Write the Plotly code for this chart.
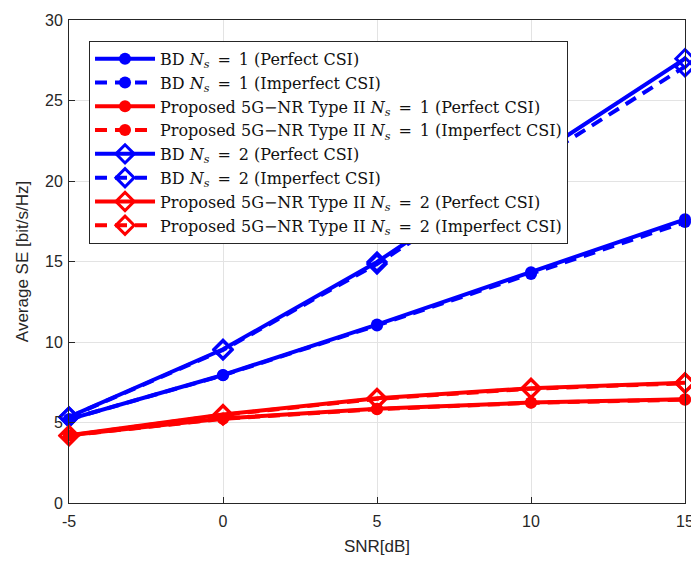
import plotly.graph_objects as go

# SNR sweep (dB)
snr_db = [-5, 0, 5, 10, 15]
snr_ticks = ["-5", "0", "5", "10", "15"]

# Average spectral efficiency [bit/s/Hz]
bd_ns1_perfect = [5.20, 7.95, 11.08, 14.33, 17.62]
bd_ns1_imperfect = [5.20, 7.93, 11.03, 14.22, 17.45]
nr_ns1_perfect = [4.20, 5.25, 5.85, 6.24, 6.44]
nr_ns1_imperfect = [4.20, 5.23, 5.83, 6.22, 6.42]
bd_ns2_perfect = [5.35, 9.55, 14.97, 21.35, 27.60]
bd_ns2_imperfect = [5.33, 9.50, 14.85, 21.05, 27.10]
nr_ns2_perfect = [4.20, 5.50, 6.50, 7.13, 7.47]
nr_ns2_imperfect = [4.18, 5.47, 6.47, 7.10, 7.44]

ns = "<i>N<sub>s</sub></i>"
eq = "\u2002=\u2002"
series = [
    (f"BD {ns}{eq}1 (Perfect CSI)", bd_ns1_perfect, "blue", "solid", "circle"),
    (f"BD {ns}{eq}1 (Imperfect CSI)", bd_ns1_imperfect, "blue", "dash", "circle"),
    (f"Proposed 5G\u2212NR Type II {ns}{eq}1 (Perfect CSI)", nr_ns1_perfect, "red", "solid", "circle"),
    (f"Proposed 5G\u2212NR Type II {ns}{eq}1 (Imperfect CSI)", nr_ns1_imperfect, "red", "dash", "circle"),
    (f"BD {ns}{eq}2 (Perfect CSI)", bd_ns2_perfect, "blue", "solid", "diamond-open"),
    (f"BD {ns}{eq}2 (Imperfect CSI)", bd_ns2_imperfect, "blue", "dash", "diamond-open"),
    (f"Proposed 5G\u2212NR Type II {ns}{eq}2 (Perfect CSI)", nr_ns2_perfect, "red", "solid", "diamond-open"),
    (f"Proposed 5G\u2212NR Type II {ns}{eq}2 (Imperfect CSI)", nr_ns2_imperfect, "red", "dash", "diamond-open"),
]

fig = go.Figure()
for name, vals, color, dash, symbol in series:
    is_diamond = symbol.startswith("diamond")
    fig.add_trace(go.Scatter(
        x=snr_db, y=vals, name=name, mode="lines+markers", cliponaxis=False,
        line=dict(color=color, width=4, dash="12px,8px" if dash == "dash" else "solid"),
        marker=dict(symbol=symbol, size=14 if is_diamond else 12, color=color,
                    line=dict(color=color, width=3 if is_diamond else 0)),
    ))

axis_common = dict(
    showline=True, linecolor="#262626", linewidth=1, mirror=True,
    ticks="inside", ticklen=6, tickcolor="#262626", automargin=False,
    showgrid=True, gridcolor="#e3e3e3", gridwidth=1, zeroline=False,
    tickfont=dict(family="Liberation Sans, Arial, sans-serif", size=16, color="#262626"),
)

fig.update_layout(
    width=691, height=563,
    margin=dict(l=69, r=6, t=20, b=60),
    paper_bgcolor="white", plot_bgcolor="white",
    font=dict(family="Liberation Sans, Arial, sans-serif", color="#262626"),
    xaxis=dict(range=[-5, 15], tickvals=snr_db, ticktext=snr_ticks,
               ticklabeloverflow="allow", ticklabelstandoff=4,
               title=dict(text="SNR[dB]", font=dict(size=17), standoff=10),
               **axis_common),
    yaxis=dict(range=[0, 30], tickvals=[0, 5, 10, 15, 20, 25, 30],
               ticklabelstandoff=2,
               title=dict(text="Average SE [bit/s/Hz]", font=dict(size=17), standoff=12),
               **axis_common),
    legend=dict(
        x=0.0325, y=0.957, xanchor="left", yanchor="top",
        bgcolor="white", bordercolor="#262626", borderwidth=1,
        font=dict(family="DejaVu Serif, Liberation Serif, serif", size=16, color="#111111"),
        itemwidth=60, tracegroupgap=0,
    ),
    showlegend=True,
)

fig.write_html("out.html")
